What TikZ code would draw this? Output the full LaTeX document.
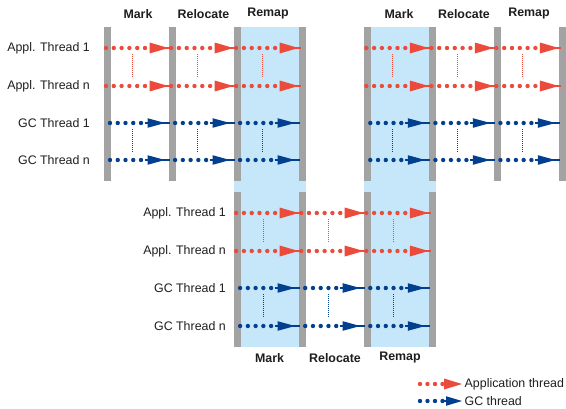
\documentclass[tikz,border=0pt]{standalone}
\usepackage{fontspec}
\setmainfont{Liberation Sans}
\definecolor{redc}{HTML}{EC4B3B}
\definecolor{bluec}{HTML}{023F8E}
\definecolor{barg}{HTML}{A3A3A3}
\definecolor{phaseblue}{HTML}{C6E6F9}
\definecolor{txt}{HTML}{1E1E1E}
\tikzset{
  lbl/.style={font=\fontsize{12.4}{14}\selectfont, text=txt, inner sep=0pt},
  hdr/.style={font=\fontsize{12.4}{14}\selectfont\bfseries, text=txt, inner sep=0pt},
  barbox/.style={fill=barg, draw=none},
  phasebox/.style={fill=phaseblue, draw=none},
  vred/.style={draw=redc, line width=1pt, dash pattern=on 1pt off 1pt},
  vblue/.style={draw=bluec, line width=1pt, dash pattern=on 1pt off 1pt},
}
\newcommand\redarr[2]{%
  \foreach \i in {0,...,5}{\fill[redc] ({#1+2.5+7.8*\i},#2) circle (2.2);}
  \draw[redc, line width=1.2pt] ({#1+46.5},#2) -- ({#1+67},#2);
  \fill[redc] ({#1+46},{#2-5.5}) -- ({#1+64.8},#2) -- ({#1+46},{#2+5.5}) -- cycle;
}
\newcommand\bluearr[2]{%
  \foreach \i in {0,...,4}{\fill[bluec] ({#1+6.5+7.75*\i},#2) circle (2.2);}
  \draw[bluec, line width=1.8pt] ({#1+41},#2) -- ({#1+66},#2);
  \fill[bluec] ({#1+44},{#2-4.8}) -- ({#1+61.5},#2) -- ({#1+44},{#2+4.8}) -- cycle;
}
\begin{document}
\begin{tikzpicture}[x=1pt,y=-1pt]
\useasboundingbox (0,0) rectangle (566,408);
% blue phase backgrounds
\fill[phasebox] (233.6,27) rectangle (305.7,347);
\fill[phasebox] (363.8,27) rectangle (435.9,347);
% bars top
\foreach \b in {103.5,168.6,233.6,298.7,363.8,428.9,493.9,559.0}
  {\fill[barbox] (\b,27) rectangle ({\b+7},181);}
% bars lower
\foreach \b in {233.6,298.7,363.8,428.9}
  {\fill[barbox] (\b,192) rectangle ({\b+7},347);}
% headers
\node[hdr] (h1) at (138,14) {Mark};
\node[hdr] (h2) at (203.5,14) {Relocate};
\node[hdr] (h3) at (268,14) {Remap};
\node[hdr] (h4) at (399,14) {Mark};
\node[hdr] (h5) at (464,14) {Relocate};
\node[hdr] (h6) at (529,14) {Remap};
\node[hdr] (h7) at (269.5,358) {Mark};
\node[hdr] (h8) at (335,358) {Relocate};
\node[hdr] (h9) at (400,358) {Remap};
% row labels
\node[lbl, anchor=east] (ta1) at (90,48) {Appl. Thread 1};
\node[lbl, anchor=east] (tan) at (90,86) {Appl. Thread n};
\node[lbl, anchor=east] (tg1) at (90,123) {GC Thread 1};
\node[lbl, anchor=east] (tgn) at (90,160) {GC Thread n};
\node[lbl, anchor=east] (la1) at (226,213) {Appl. Thread 1};
\node[lbl, anchor=east] (lan) at (226,251) {Appl. Thread n};
\node[lbl, anchor=east] (lg1) at (226,288) {GC Thread 1};
\node[lbl, anchor=east] (lgn) at (226,326) {GC Thread n};
% top arrows
\foreach \x in {103.5,168.6,233.6,363.8,428.9,493.9}{
  \redarr{\x}{48}
  \redarr{\x}{86}
  \bluearr{\x}{123}
  \bluearr{\x}{160}
  \draw[vred] ({\x+28.5},54) -- ({\x+28.5},78);
  \draw[vblue] ({\x+28.5},129) -- ({\x+28.5},153);
}
% lower arrows
\foreach \x in {233.6,298.7,363.8}{
  \redarr{\x}{213}
  \redarr{\x}{251}
  \bluearr{\x}{288}
  \bluearr{\x}{326}
  \draw[vred] ({\x+29.5},219) -- ({\x+29.5},243);
  \draw[vblue] ({\x+29.5},294) -- ({\x+29.5},318);
}
% legend
\foreach \i in {0,...,3}{\fill[redc] ({420+7.5*\i},384) circle (2.2);}
\fill[redc] (444,378.5) -- (462,384) -- (444,389.5) -- cycle;
\node[lbl, anchor=west] (lega) at (464.5,384) {Application thread};
\foreach \i in {0,...,3}{\fill[bluec] ({420+7.5*\i},401) circle (2.2);}
\draw[bluec, line width=1.8pt] (442,401) -- (450,401);
\fill[bluec] (446,396.2) -- (462,401) -- (446,405.8) -- cycle;
\node[lbl, anchor=west] (legb) at (464.5,401) {GC thread};
\end{tikzpicture}
\end{document}
